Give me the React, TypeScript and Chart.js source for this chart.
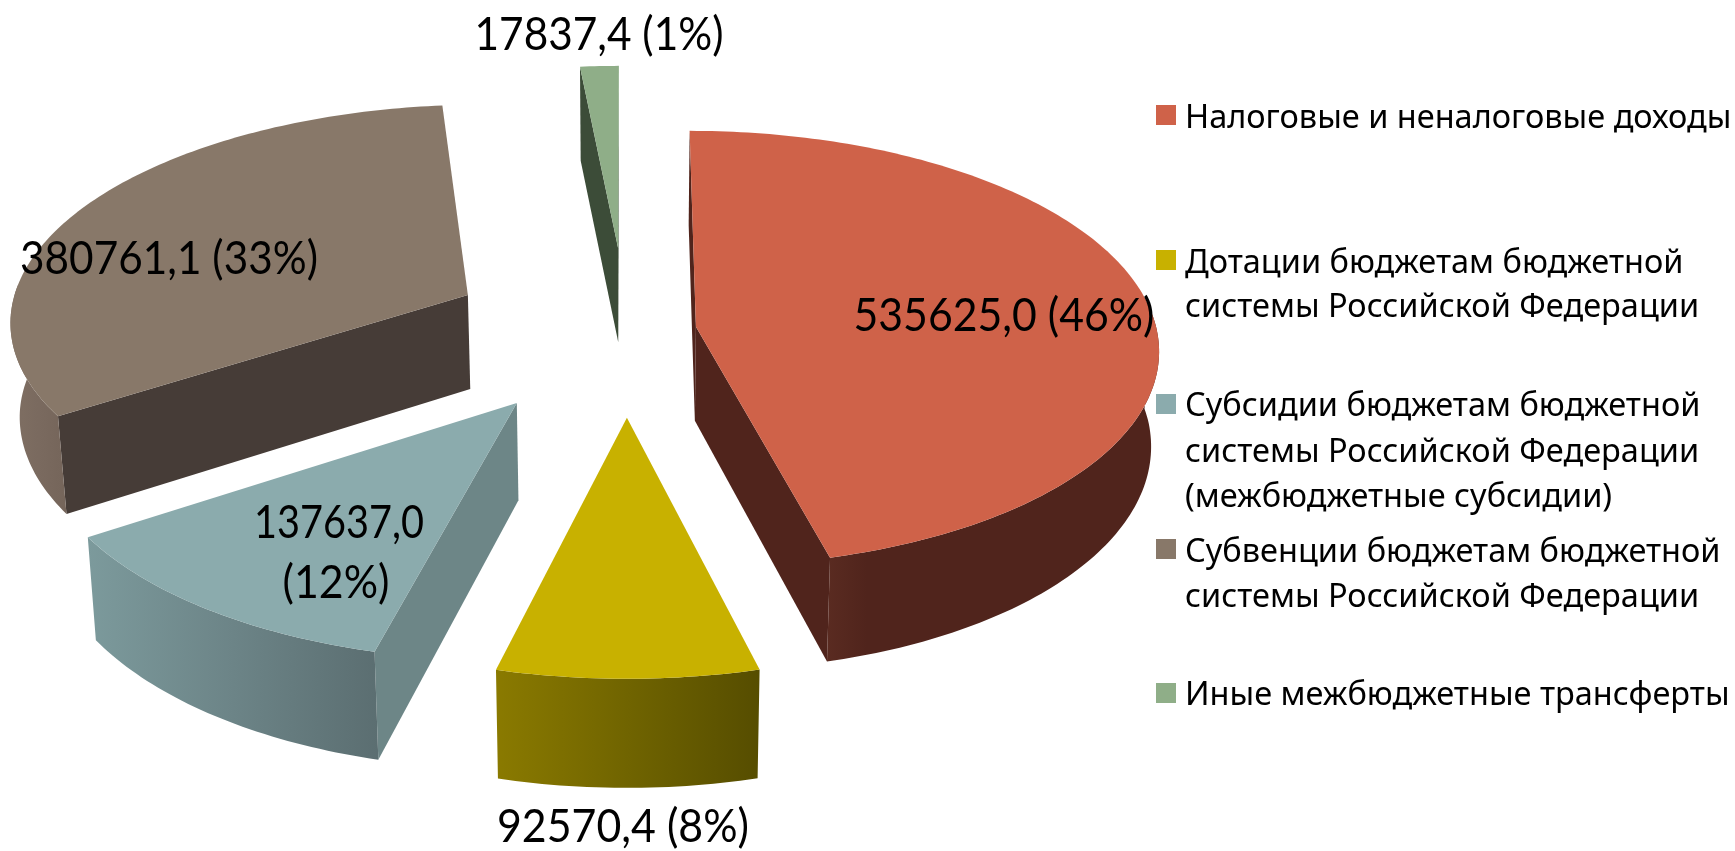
import React, { useEffect, useRef } from "react";
import { Chart, registerables } from "chart.js";

Chart.register(...registerables);

const W = 1735;
const H = 851;

// Data
const categories = [
  "Налоговые и неналоговые доходы",
  "Дотации бюджетам бюджетной системы Российской Федерации",
  "Субсидии бюджетам бюджетной системы Российской Федерации (межбюджетные субсидии)",
  "Субвенции бюджетам бюджетной системы Российской Федерации",
  "Иные межбюджетные трансферты",
];
const values = [535625.0, 92570.4, 137637.0, 380761.1, 17837.4];
const percents = [46, 8, 12, 33, 1];
const legendLines = [
  ["Налоговые и неналоговые доходы"],
  ["Дотации бюджетам бюджетной", "системы Российской Федерации"],
  ["Субсидии бюджетам бюджетной", "системы Российской Федерации", "(межбюджетные субсидии)"],
  ["Субвенции бюджетам бюджетной", "системы Российской Федерации"],
  ["Иные межбюджетные трансферты"],
];

// Styles
const topColors = ["#CF6249", "#C8B100", "#8BABAD", "#887869", "#8FAE88"];
const radialWallColors = ["#50241C", "#7A6C00", "#6D8687", "#463C37", "#3C4C38"];
const outerWallLeft = ["#5A2B21", "#8A7A00", "#7C9A9C", "#7F6F63", "#3C4C38"];
const outerWallRight = ["#50241C", "#564D00", "#5B6E71", "#75655A", "#3C4C38"];
const outerWallMidStop = [0.12, 0.5, 0.5, 0.5, 0.5];
const explode = [70, 178, 183, 179, 183];

// Projection of the pie plane on the screen
const CX = 626.6;
const CY = 330.8;
const RADIUS = 461;
const TILT = 0.469;
const PERSP = 0.000217;
const DEPTH = 94;
const CONVERGE = 0.985;

const project = (X: number, Y: number, bottom: boolean) => {
  const g = 1 / (1 - PERSP * Y);
  const sx = CX + X * g * (bottom ? CONVERGE : 1);
  const sy = CY + TILT * Y * g + (bottom ? DEPTH * Math.max(g, 1) : 0);
  return [sx, sy];
};

const tracePoly = (ctx: CanvasRenderingContext2D, pts: number[][]) => {
  ctx.beginPath();
  pts.forEach((p, i) => (i ? ctx.lineTo(p[0], p[1]) : ctx.moveTo(p[0], p[1])));
  ctx.closePath();
};

const shoelace = (pts: number[][]) => {
  let s = 0;
  pts.forEach((p, i) => {
    const q = pts[(i + 1) % pts.length];
    s += p[0] * q[1] - q[0] * p[1];
  });
  return s;
};

const mixHex = (a: string, b: string, t: number) => {
  const pa = [1, 3, 5].map((k) => parseInt(a.slice(k, k + 2), 16));
  const pb = [1, 3, 5].map((k) => parseInt(b.slice(k, k + 2), 16));
  return `rgb(${pa.map((v, k) => Math.round(v + (pb[k] - v) * t)).join(",")})`;
};

const pie3d = {
  id: "pie3d",
  beforeDatasetsDraw(chart: any) {
    const ctx: CanvasRenderingContext2D = chart.ctx;
    const arcs = chart.getDatasetMeta(0).data;
    const slices = arcs.map((el: any, i: number) => {
      const unit = RADIUS / el.outerRadius;
      const r = el.outerRadius * unit;
      const a0 = el.startAngle;
      const a1 = el.endAngle;
      const mid = (a0 + a1) / 2;
      const off = el.options.offset;
      const ox = Math.cos(mid) * off;
      const oy = Math.sin(mid) * off;
      return { i, a0, a1, r, ox, oy, fill: el.options.backgroundColor, depthKey: oy + Math.sin(mid) * r * 0.5 };
    });
    slices.sort((a: any, b: any) => a.depthKey - b.depthKey);
    ctx.save();
    for (const s of slices) {
      const steps = Math.max(8, Math.ceil(((s.a1 - s.a0) * 180) / Math.PI));
      const rim: number[][] = [];
      const rimBottom: number[][] = [];
      const rimFront: number[][] = [];
      const rimFrontBottom: number[][] = [];
      for (let k = 0; k <= steps; k++) {
        const a = s.a0 + ((s.a1 - s.a0) * k) / steps;
        const X = s.ox + Math.cos(a) * s.r;
        const Y = s.oy + Math.sin(a) * s.r;
        const t = project(X, Y, false);
        const b = project(X, Y, true);
        rim.push(t);
        rimBottom.push(b);
        if (Math.sin(a) > -0.06) {
          rimFront.push(t);
          rimFrontBottom.push(b);
        }
      }
      const apex = project(s.ox, s.oy, false);
      const apexB = project(s.ox, s.oy, true);

      // radial walls
      const startWall = [apex, rim[0], rimBottom[0], apexB];
      const endWall = [apex, rim[steps], rimBottom[steps], apexB];
      ctx.fillStyle = radialWallColors[s.i];
      if (shoelace(startWall) < 0) {
        tracePoly(ctx, startWall);
        ctx.fill();
      }
      if (shoelace(endWall) > 0) {
        tracePoly(ctx, endWall);
        ctx.fill();
      }

      // outer wall
      if (rimFront.length > 1) {
        const xs = rimFront.concat(rimFrontBottom).map((p) => p[0]);
        const g = ctx.createLinearGradient(Math.min(...xs), 0, Math.max(...xs), 0);
        g.addColorStop(0, outerWallLeft[s.i]);
        g.addColorStop(outerWallMidStop[s.i], mixHex(outerWallLeft[s.i], outerWallRight[s.i], s.i === 0 ? 1 : 0.5));
        g.addColorStop(1, outerWallRight[s.i]);
        ctx.fillStyle = g;
        tracePoly(ctx, rimFront.concat(rimFrontBottom.slice().reverse()));
        ctx.fill();
      }

      // top face
      ctx.fillStyle = s.fill;
      tracePoly(ctx, [apex, ...rim]);
      ctx.fill();
    }
    ctx.restore();
    return false;
  },
};

const fmt = (v: number) => v.toFixed(1).replace(".", ",");
const dataLabelLines = values.map((v, i) => [`${fmt(v)} (${percents[i]}%)`]);
dataLabelLines[2] = [fmt(values[2]), `(${percents[2]}%)`];
const labelAnchors = [
  [[1004, 331]],
  [[623, 842]],
  [[339, 538], [336, 598]],
  [[169, 274]],
  [[599, 50]],
];
const labelWidths = [[301], [252], [170, 107], [298], [249]];
const legendBaselines = [[128], [272.7, 317], [416, 461.7, 507], [561.7, 606.7], [705]];
const legendSwatchTops = [105, 250, 394, 539, 683];

const textLayer = {
  id: "textLayer",
  afterDraw(chart: any) {
    const ctx: CanvasRenderingContext2D = chart.ctx;
    ctx.save();
    ctx.fillStyle = "#000000";
    ctx.textBaseline = "alphabetic";
    ctx.textAlign = "center";
    ctx.font = "46px Lato";
    dataLabelLines.forEach((lines, i) =>
      lines.forEach((line, j) => ctx.fillText(line, labelAnchors[i][j][0], labelAnchors[i][j][1], labelWidths[i][j]))
    );
    ctx.textAlign = "left";
    ctx.font = '32.5px "Noto Sans"';
    legendLines.forEach((lines, i) => {
      ctx.fillStyle = topColors[i];
      ctx.fillRect(1156, legendSwatchTops[i], 20, 20);
      ctx.fillStyle = "#000000";
      lines.forEach((line, j) => ctx.fillText(line, 1185, legendBaselines[i][j]));
    });
    ctx.restore();
  },
};

export default function App() {
  const ref = useRef<HTMLCanvasElement>(null);
  useEffect(() => {
    const chart = new Chart(ref.current as HTMLCanvasElement, {
      type: "pie",
      data: {
        labels: categories,
        datasets: [
          {
            data: values,
            backgroundColor: topColors,
            offset: explode,
            borderWidth: 0,
          },
        ],
      },
      options: {
        animation: false,
        responsive: false,
        radius: RADIUS,
        layout: { padding: 0 },
        plugins: { legend: { display: false }, tooltip: { enabled: false } },
      } as any,
      plugins: [pie3d, textLayer],
    } as any);
    return () => chart.destroy();
  }, []);
  return (
    <canvas
      ref={ref}
      width={W}
      height={H}
      style={{ position: "fixed", left: 0, top: 0, width: W, height: H, background: "#fff" }}
    />
  );
}
